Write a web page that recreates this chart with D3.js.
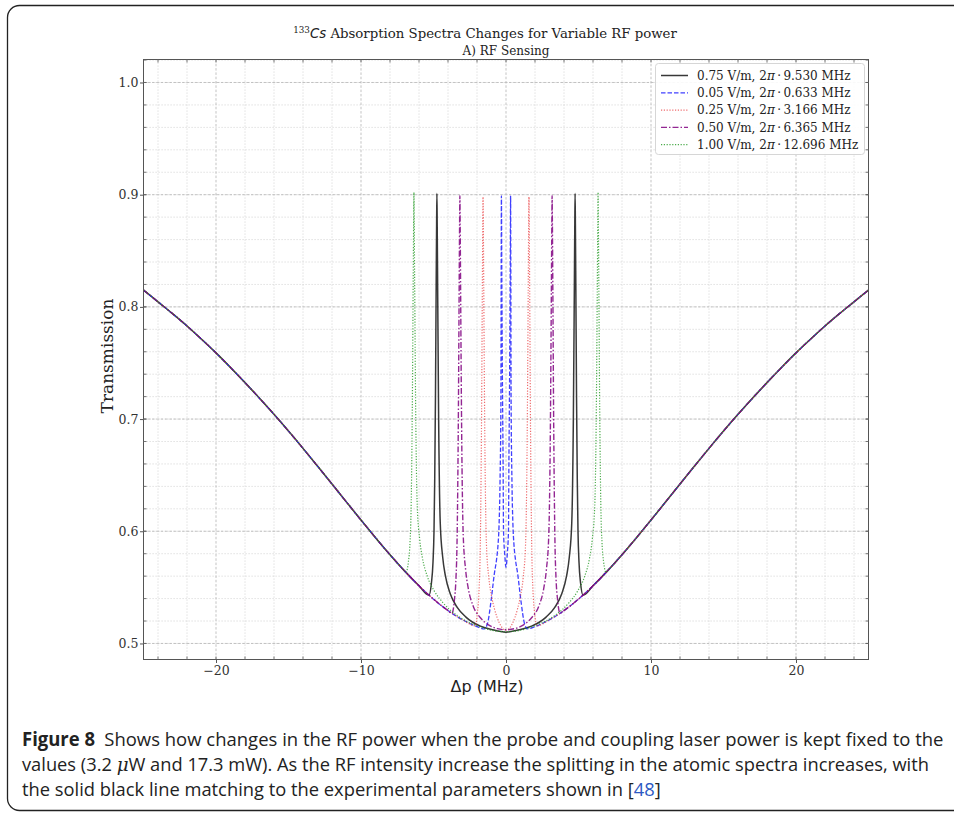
<!DOCTYPE html>
<html><head><meta charset="utf-8">
<script src="https://cdn.jsdelivr.net/npm/d3@7/dist/d3.min.js"></script>
<style>body{margin:0;background:#fff}</style>
</head><body>
<svg id="c" width="954" height="813"></svg>
<script>
// ---------- data ----------
const baseline = [[-25,0.815],[-24,0.8045],[-23,0.794],[-22,0.783],[-21,0.7712],[-20,0.759],[-19,0.746],[-18,0.7325],[-17,0.7186],[-16,0.7042],[-15,0.6893],[-14,0.6739],[-13,0.6581],[-12,0.6421],[-11,0.626],[-10,0.61],[-9,0.5943],[-8,0.5791],[-7,0.5647],[-6,0.5514],[-5,0.5395],[-4,0.5293],[-3,0.5211],[-2,0.515],[-1,0.5113],[0,0.51],[1,0.5113],[2,0.515],[3,0.5211],[4,0.5293],[5,0.5395],[6,0.5514],[7,0.5647],[8,0.5791],[9,0.5943],[10,0.61],[11,0.626],[12,0.6421],[13,0.6581],[14,0.6739],[15,0.6893],[16,0.7042],[17,0.7186],[18,0.7325],[19,0.746],[20,0.759],[21,0.7712],[22,0.783],[23,0.794],[24,0.8045],[25,0.815]];

const black = [[-5.315,0.5431],[-5.145,0.5537],[-5.035,0.5723],[-4.965,0.6005],[-4.915,0.647],[-4.865,0.719],[-4.815,0.8203],[-4.785,0.8746],[-4.765,0.901],[-4.745,0.8746],[-4.715,0.82],[-4.645,0.6996],[-4.535,0.6076],[-4.365,0.5768],[-4.185,0.5606],[-3.845,0.5443],[-3.365,0.5321],[-2.765,0.5235],[-1.765,0.5154],[-1,0.5125],[0,0.5101],[1,0.5125],[1.765,0.5154],[2.765,0.5235],[3.365,0.5321],[3.845,0.5443],[4.185,0.5606],[4.365,0.5768],[4.535,0.6076],[4.645,0.6996],[4.715,0.82],[4.745,0.8746],[4.765,0.901],[4.785,0.8746],[4.815,0.8203],[4.865,0.719],[4.915,0.647],[4.965,0.6005],[5.035,0.5723],[5.145,0.5537],[5.315,0.5431]];

const blue = [[-2,0.515],[-1.5,0.513],[-1.27,0.518],[-1.03,0.538],[-0.8,0.5625],[-0.65,0.575],[-0.55,0.588],[-0.48,0.605],[-0.41,0.645],[-0.35,0.72],[-0.33,0.84],[-0.317,0.899],[-0.29,0.83],[-0.25,0.74],[-0.2,0.66],[-0.17,0.6],[-0.09,0.58],[0,0.568],[0.09,0.58],[0.17,0.6],[0.2,0.66],[0.25,0.74],[0.29,0.83],[0.317,0.899],[0.33,0.84],[0.35,0.72],[0.41,0.645],[0.48,0.605],[0.55,0.588],[0.65,0.575],[0.8,0.5625],[1.03,0.538],[1.27,0.518],[1.5,0.513],[2,0.515]];

const red = [[-2.133,0.5157],[-1.963,0.5283],[-1.853,0.549],[-1.783,0.5796],[-1.733,0.6296],[-1.683,0.7068],[-1.633,0.8149],[-1.603,0.8729],[-1.583,0.898],[-1.563,0.8729],[-1.533,0.8148],[-1.463,0.687],[-1.353,0.5898],[-1.183,0.5583],[-1.0,0.5424],[-0.8,0.531],[-0.45,0.518],[0,0.5118],[0.45,0.518],[0.8,0.531],[1.0,0.5424],[1.183,0.5583],[1.353,0.5898],[1.463,0.687],[1.533,0.8148],[1.563,0.8729],[1.583,0.898],[1.603,0.8729],[1.633,0.8149],[1.683,0.7068],[1.733,0.6296],[1.783,0.5796],[1.853,0.549],[1.963,0.5283],[2.133,0.5157]];

const purple = [[-3.73,0.5269],[-3.56,0.5385],[-3.45,0.5583],[-3.38,0.5878],[-3.33,0.6365],[-3.28,0.7116],[-3.23,0.817],[-3.2,0.8736],[-3.18,0.899],[-3.16,0.8726],[-3.13,0.816],[-3.06,0.6914],[-2.95,0.5966],[-2.78,0.5652],[-2.6,0.5489],[-2.26,0.5332],[-1.78,0.5231],[-1.18,0.5164],[-0.6,0.5132],[0,0.5122],[0.6,0.5132],[1.18,0.5164],[1.78,0.5231],[2.26,0.5332],[2.6,0.5489],[2.78,0.5652],[2.95,0.5966],[3.06,0.6914],[3.13,0.816],[3.16,0.8726],[3.18,0.899],[3.2,0.8736],[3.23,0.817],[3.28,0.7116],[3.33,0.6365],[3.38,0.5878],[3.45,0.5583],[3.56,0.5385],[3.73,0.5269]];

const green = [[-6.9,0.5633],[-6.73,0.5729],[-6.62,0.5901],[-6.55,0.6166],[-6.5,0.6605],[-6.45,0.7286],[-6.4,0.8244],[-6.37,0.8759],[-6.35,0.902],[-6.33,0.8759],[-6.3,0.8241],[-6.23,0.7099],[-6.12,0.6223],[-5.95,0.5927],[-5.77,0.5766],[-5.43,0.56],[-4.95,0.5469],[-4.35,0.5364],[-3.35,0.5248],[-2,0.5158],[-1,0.5118],[0,0.5104],[1,0.5118],[2,0.5158],[3.35,0.5248],[4.35,0.5364],[4.95,0.5469],[5.43,0.56],[5.77,0.5766],[5.95,0.5927],[6.12,0.6223],[6.23,0.7099],[6.3,0.8241],[6.33,0.8759],[6.35,0.902],[6.37,0.8759],[6.4,0.8244],[6.45,0.7286],[6.5,0.6605],[6.55,0.6166],[6.62,0.5901],[6.73,0.5729],[6.9,0.5633]];

const fieldStrength = ["0.75", "0.05", "0.25", "0.50", "1.00"];
const rabiMHz = ["9.530", "0.633", "3.166", "6.365", "12.696"];
const xTicks = [-20, -10, 0, 10, 20];
const yTicks = [0.5, 0.6, 0.7, 0.8, 0.9, 1.0];
const xMinor = [-24,-22,-18,-16,-14,-12,-8,-6,-4,-2,2,4,6,8,12,14,16,18,22,24];
const yMinor = [0.50,0.52,0.54,0.56,0.58,0.60,0.62,0.64,0.66,0.68,0.70,0.72,0.74,0.76,0.78,0.80,0.82,0.84,0.86,0.88,0.90,0.92,0.94,0.96,0.98,1.00,1.02];

// ---------- styles ----------
const styles = [
  {color:"#151515", dash:null, width:1.5, op:0.85},
  {color:"#1f1fff", dash:"4.5,2", width:1.3, op:0.85},
  {color:"#e8393c", dash:"1.2,1.6", width:1.2, op:0.75},
  {color:"#800080", dash:"6,2,1.5,2", width:1.4, op:0.85},
  {color:"#1e961e", dash:"1.2,1.6", width:1.2, op:0.8}
];
const seriesData = [black, blue, red, purple, green];

const svg = d3.select("#c");
const W = 954, H = 813;
const L = 143.5, R = 868.5, T = 59.5, B = 659.5;
const x = d3.scaleLinear().domain([-25, 25]).range([L, R]);
const y = d3.scaleLinear().domain([0.4857, 1.0205]).range([B, T]);

svg.append("rect").attr("width", W).attr("height", H).attr("fill", "#fff");
svg.append("rect").attr("x", 7.5).attr("y", 5.5).attr("width", 990).attr("height", 805)
  .attr("rx", 12).attr("fill", "none").attr("stroke", "#222").attr("stroke-width", 1.3);

// grid
const g = svg.append("g");
g.selectAll(".gxm").data(xMinor).join("line")
  .attr("x1", d => x(d)).attr("x2", d => x(d)).attr("y1", T).attr("y2", B)
  .attr("stroke", "#cfcfcf").attr("stroke-width", 0.8).attr("stroke-dasharray", "1.2,1.8");
g.selectAll(".gym").data(yMinor).join("line")
  .attr("y1", d => y(d)).attr("y2", d => y(d)).attr("x1", L).attr("x2", R)
  .attr("stroke", "#cfcfcf").attr("stroke-width", 0.8).attr("stroke-dasharray", "1.2,1.8");
g.selectAll(".gxM").data(xTicks).join("line")
  .attr("x1", d => x(d)).attr("x2", d => x(d)).attr("y1", T).attr("y2", B)
  .attr("stroke", "#bcbcbc").attr("stroke-width", 0.9).attr("stroke-dasharray", "2.5,1.8");
g.selectAll(".gyM").data(yTicks).join("line")
  .attr("y1", d => y(d)).attr("y2", d => y(d)).attr("x1", L).attr("x2", R)
  .attr("stroke", "#bcbcbc").attr("stroke-width", 0.9).attr("stroke-dasharray", "2.5,1.8");

// series
svg.append("clipPath").attr("id", "clip").append("rect")
  .attr("x", L).attr("y", T).attr("width", R - L).attr("height", B - T);
function assemble(pts) {
  const r = d3.max(pts, p => Math.abs(p[0]));
  return baseline.filter(p => Math.abs(p[0]) > r + 1e-9).concat(pts).sort((a, b) => a[0] - b[0]);
}
const line = d3.line().x(d => x(d[0])).y(d => y(d[1])).curve(d3.curveMonotoneX);
const lg = svg.append("g").attr("clip-path", "url(#clip)");
seriesData.forEach((s, i) => {
  const st = styles[i];
  lg.append("path").datum(assemble(s)).attr("d", line).attr("fill", "none")
    .attr("stroke", st.color).attr("stroke-width", st.width).attr("stroke-opacity", st.op)
    .attr("stroke-dasharray", st.dash).attr("stroke-linejoin", "round");
});

// frame
svg.append("rect").attr("x", L).attr("y", T).attr("width", R - L).attr("height", B - T)
  .attr("fill", "none").attr("stroke", "#555").attr("stroke-width", 1);

// axes
const axB = d3.axisBottom(x).tickValues(xTicks).tickSize(3.5).tickPadding(3)
  .tickFormat(d => d < 0 ? "\u2212" + Math.abs(d) : d);
const axL = d3.axisLeft(y).tickValues(yTicks).tickSize(3.5).tickPadding(1.5).tickFormat(d3.format(".1f"));
const gb = svg.append("g").attr("transform", `translate(0,${B})`).call(axB);
const gl = svg.append("g").attr("transform", `translate(${L},0)`).call(axL);
[gb, gl].forEach(a => {
  a.select(".domain").remove();
  a.selectAll("line").attr("stroke", "#555");
  a.selectAll("text").attr("font-family", "DejaVu Serif").attr("font-size", 12.5).attr("fill", "#333");
});
const mt = svg.append("g").attr("stroke", "#666").attr("stroke-width", 0.9);
mt.selectAll(".tb").data(xMinor.concat(xTicks)).join("line")
  .attr("x1", d => x(d)).attr("x2", d => x(d)).attr("y1", B).attr("y2", B - 3);
mt.selectAll(".tt").data(xMinor.concat(xTicks)).join("line")
  .attr("x1", d => x(d)).attr("x2", d => x(d)).attr("y1", T).attr("y2", T + 3);
mt.selectAll(".tl").data(yMinor.concat(yTicks)).join("line")
  .attr("y1", d => y(d)).attr("y2", d => y(d)).attr("x1", L).attr("x2", L + 3);
mt.selectAll(".tr").data(yMinor.concat(yTicks)).join("line")
  .attr("y1", d => y(d)).attr("y2", d => y(d)).attr("x1", R).attr("x2", R - 3);

// titles
const t1 = svg.append("text").attr("x", 485).attr("y", 38).attr("text-anchor", "middle")
  .attr("font-family", "DejaVu Serif").attr("font-size", 13.3).attr("fill", "#222");
t1.append("tspan").attr("font-size", 8.8).attr("dy", -5).text("133");
t1.append("tspan").attr("dy", 5).attr("font-family", "DejaVu Sans").attr("font-style", "italic").text("Cs");
t1.append("tspan").text(" Absorption Spectra Changes for Variable RF power");
svg.append("text").attr("x", (L + R) / 2).attr("y", 54.5).attr("text-anchor", "middle")
  .attr("font-family", "DejaVu Serif").attr("font-size", 12).attr("fill", "#222").text("A) RF Sensing");

// axis labels
svg.append("text").attr("transform", "translate(113,356) rotate(-90)").attr("text-anchor", "middle")
  .attr("font-family", "DejaVu Serif").attr("font-size", 17).attr("fill", "#222").text("Transmission");
svg.append("text").attr("x", 487).attr("y", 692).attr("text-anchor", "middle")
  .attr("font-family", "DejaVu Sans").attr("font-size", 16).attr("fill", "#222").text("\u0394p (MHz)");

// legend
const leg = svg.append("g");
leg.append("rect").attr("x", 655.5).attr("y", 63.5).attr("width", 209).attr("height", 91).attr("rx", 3)
  .attr("fill", "#fff").attr("fill-opacity", 0.9).attr("stroke", "#d6d6d6");
fieldStrength.forEach((f, i) => {
  const yy = 75.5 + i * 17.3;
  const st = styles[i];
  leg.append("line").attr("x1", 661).attr("x2", 688).attr("y1", yy).attr("y2", yy)
    .attr("stroke", st.color).attr("stroke-width", st.width).attr("stroke-opacity", st.op)
    .attr("stroke-dasharray", st.dash);
  const tx = leg.append("text").attr("x", 697).attr("y", yy + 4.3)
    .attr("font-family", "DejaVu Serif").attr("font-size", 12).attr("fill", "#222");
  tx.append("tspan").text(`${f} V/m, 2`);
  tx.append("tspan").attr("font-style", "italic").text("\u03c0");
  tx.append("tspan").text(`\u2009\u00b7\u2009${rabiMHz[i]} MHz`);
});

// caption: natural-width text, squeezed horizontally to the reference width
const capFont = "'Liberation Sans Narrow', 'Open Sans', 'Noto Sans', sans-serif";
function capLine(yb, target, build) {
  const gg = svg.append("g");
  const t = gg.append("text").attr("x", 0).attr("y", 0).attr("font-family", capFont)
    .attr("font-size", 19).attr("fill", "#222");
  build(t);
  const w = t.node().getComputedTextLength();
  const s = Math.min(1, target / w);
  gg.attr("transform", `translate(22,${yb}) scale(${s},1)`);
}
capLine(746, 922, t => {
  t.append("tspan").attr("font-weight", "bold").text("Figure 8");
  t.append("tspan").text("\u2002Shows how changes in the RF power when the probe and coupling laser power is kept fixed to the");
});
capLine(771, 908, t => {
  t.append("tspan").text("values (3.2 ");
  t.append("tspan").attr("font-style", "italic").attr("font-family", "DejaVu Serif").text("\u03bc");
  t.append("tspan").text("W and 17.3 mW). As the RF intensity increase the splitting in the atomic spectra increases, with");
});
capLine(796, 639, t => {
  t.append("tspan").text("the solid black line matching to the experimental parameters shown in [");
  t.append("tspan").attr("fill", "#2b59c3").text("48");
  t.append("tspan").text("]");
});
</script>
</body></html>
